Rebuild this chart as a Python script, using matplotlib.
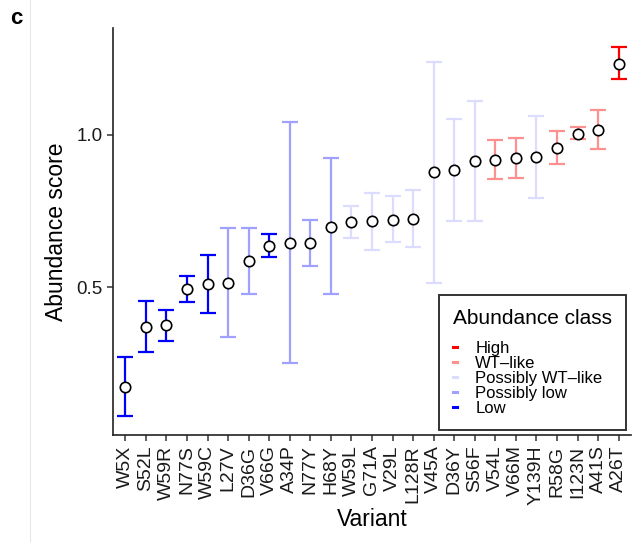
import numpy as np
import matplotlib
matplotlib.use("Agg")
import matplotlib.pyplot as plt
from matplotlib.lines import Line2D

variants = ["W5X", "S52L", "W59R", "N77S", "W59C", "L27V", "D36G", "V66G", "A34P",
            "N77Y", "H68Y", "W59L", "G71A", "V29L", "L128R", "V45A", "D36Y", "S56F",
            "V54L", "V66M", "Y139H", "R58G", "I123N", "A41S", "A26T"]
score = [0.174, 0.370, 0.375, 0.494, 0.511, 0.513, 0.586, 0.636, 0.645,
         0.645, 0.699, 0.713, 0.716, 0.721, 0.725, 0.877, 0.885, 0.914,
         0.919, 0.925, 0.928, 0.958, 1.004, 1.017, 1.234]
lower = [0.076, 0.287, 0.324, 0.452, 0.415, 0.337, 0.477, 0.598, 0.251,
         0.570, 0.479, 0.661, 0.623, 0.648, 0.631, 0.514, 0.719, 0.719,
         0.856, 0.858, 0.794, 0.904, 0.986, 0.955, 1.183]
upper = [0.270, 0.454, 0.424, 0.536, 0.607, 0.694, 0.694, 0.676, 1.042,
         0.721, 0.923, 0.766, 0.808, 0.798, 0.820, 1.239, 1.053, 1.111,
         0.983, 0.991, 1.062, 1.013, 1.026, 1.081, 1.290]
abundance_class = ["Low", "Low", "Low", "Low", "Low", "Possibly low", "Possibly low", "Low",
                   "Possibly low", "Possibly low", "Possibly low", "Possibly WT-like",
                   "Possibly WT-like", "Possibly WT-like", "Possibly WT-like",
                   "Possibly WT-like", "Possibly WT-like", "Possibly WT-like",
                   "WT-like", "WT-like", "Possibly WT-like", "WT-like", "WT-like",
                   "WT-like", "High"]

classes = ["High", "WT-like", "Possibly WT-like", "Possibly low", "Low"]
class_labels = ["High", "WT\u2013like", "Possibly WT\u2013like", "Possibly low", "Low"]
class_colors = ["#FF0000", "#FF9090", "#DCDCFF", "#A0A0FF", "#0000FF"]

plt.rcParams["font.family"] = ["Liberation Sans", "DejaVu Sans"]

fig = plt.figure(figsize=(6.38, 5.42), dpi=100)
ax = fig.add_axes([113 / 638, 1 - 435 / 542, (631 - 113) / 638, (435 - 28) / 542])

x = np.arange(len(variants))
score_a = np.array(score)
lower_a = np.array(lower)
upper_a = np.array(upper)
cls_a = np.array(abundance_class)

# error bars per class, points on top
for cls, col in zip(classes, class_colors):
    idx = cls_a == cls
    ax.errorbar(x[idx], score_a[idx],
                yerr=[score_a[idx] - lower_a[idx], upper_a[idx] - score_a[idx]],
                fmt="none", ecolor=col, elinewidth=1.6, capsize=6, capthick=1.6, zorder=2)

ax.plot(x, score_a, "o", ms=7.5, mfc="white", mec="black", mew=1.2, zorder=3)

ax.set_xlim(-0.6, len(variants) - 0.4)
ax.set_ylim(0.015, 1.351)
ax.set_yticks([0.5, 1.0])
ax.set_yticklabels(["0.5", "1.0"])
ax.set_xticks(x)
ax.set_xticklabels(variants, rotation=90, fontsize=14, color="#1a1a1a")
ax.tick_params(axis="y", labelsize=13.5, labelcolor="#1a1a1a")
ax.tick_params(length=4, width=1.1, color="#333333")
for s in ["top", "right"]:
    ax.spines[s].set_visible(False)
for s in ["left", "bottom"]:
    ax.spines[s].set_linewidth(1.2)
    ax.spines[s].set_color("#222222")

ax.set_xlabel("Variant", fontsize=16.5, labelpad=2)
ax.set_ylabel("Abundance score", fontsize=16.5, labelpad=6)

handles = [Line2D([0], [0], color=c, lw=2.2) for c in class_colors]
leg = ax.legend(handles, class_labels, title="Abundance class", loc="lower right",
                bbox_to_anchor=(626 / 638, 1 - 430 / 542), bbox_transform=fig.transFigure,
                borderaxespad=0, fontsize=12, title_fontsize=15, handlelength=0.25,
                handletextpad=1.1, labelspacing=0.0, borderpad=0.85,
                frameon=True, fancybox=False, alignment="left")
leg._legend_box.sep = 9
leg.get_frame().set_edgecolor("black")
leg.get_frame().set_linewidth(1.4)

fig.text(16 / 638, 1 - 18 / 542, "c", fontsize=16, fontweight="bold", ha="center", va="center")
fig.add_artist(Line2D([30 / 638, 30 / 638], [0, 1], color="#e6e6e6", lw=0.8))

fig.savefig("out.png", dpi=100)
